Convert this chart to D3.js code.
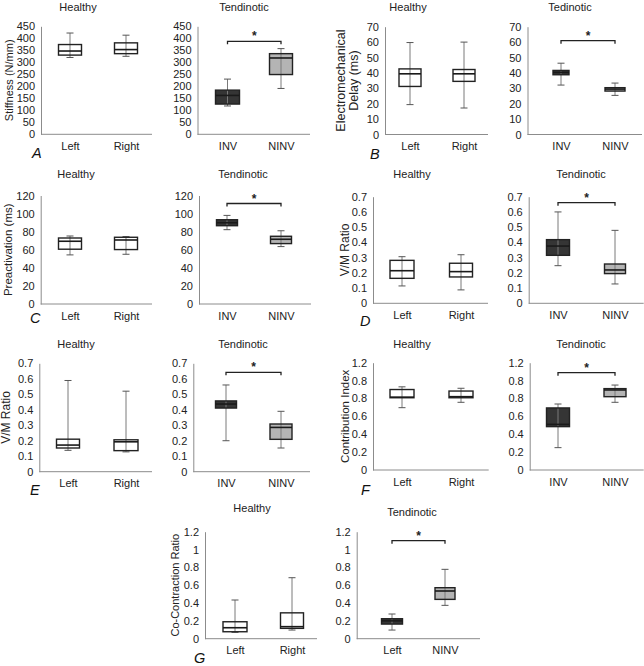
<!DOCTYPE html>
<html>
<head>
<meta charset="utf-8">
<script src="https://cdn.jsdelivr.net/npm/d3@7/dist/d3.min.js"></script>
<style>
html,body{margin:0;padding:0;background:#fff;}
svg{display:block;font-family:"Liberation Sans",Arial,Helvetica,sans-serif;}
</style>
</head>
<body>
<svg id="chart" width="644" height="666"></svg>
<script>
// ---------- DATA (box stats: [min, q1, median, q3, max]) ----------
const healthyCats = ["Left", "Right"];
const tendCats = ["INV", "NINV"];
const tendCatsG = ["Left", "NINV"];

const stiffnessHealthy = [[320, 330, 347, 374, 422], [325, 336, 353, 381, 413]];
const stiffnessTend = [[118, 126, 162, 184, 230], [191, 249, 318, 336, 357]];
const emdHealthy = [[19.4, 31.2, 39.4, 42.6, 59.7], [17.2, 34.5, 39.4, 42.2, 60]];
const emdTend = [[32.1, 38.8, 40.3, 41.6, 46.3], [25.4, 28.2, 29.5, 30.4, 33.4]];
const preactHealthy = [[54.3, 60.6, 69.4, 73, 75.2], [55, 60.2, 70.8, 73.8, 74.5]];
const preactTend = [[82.2, 86.6, 89.9, 93.2, 98], [63.5, 66.8, 71.6, 74.9, 81]];
const vmDHealthy = [[0.114, 0.164, 0.214, 0.282, 0.306], [0.088, 0.173, 0.208, 0.263, 0.319]];
const vmDTend = [[0.247, 0.315, 0.376, 0.418, 0.6], [0.127, 0.195, 0.219, 0.258, 0.479]];
const vmEHealthy = [[0.138, 0.153, 0.172, 0.21, 0.589], [0.128, 0.136, 0.193, 0.206, 0.52]];
const vmETend = [[0.2, 0.411, 0.437, 0.457, 0.56], [0.153, 0.209, 0.286, 0.308, 0.39]];
const ciHealthy = [[0.697, 0.808, 0.815, 0.9, 0.93], [0.757, 0.808, 0.82, 0.883, 0.914]];
const ciTend = [[0.25, 0.485, 0.51, 0.694, 0.738], [0.757, 0.82, 0.895, 0.91, 0.95]];
const ccHealthy = [[0.071, 0.078, 0.123, 0.19, 0.434], [0.097, 0.116, 0.135, 0.29, 0.684]];
const ccTend = [[0.097, 0.164, 0.2, 0.224, 0.277], [0.374, 0.441, 0.535, 0.572, 0.778]];

// tick values and labels
const stiffTicks = [0, 50, 100, 150, 200, 250, 300, 350, 400, 450];
const stiffTickLabels = ["0", "50", "100", "150", "200", "250", "300", "350", "400", "450"];
const emdTicks = [0, 10, 20, 30, 40, 50, 60, 70];
const emdTickLabels = ["0", "10", "20", "30", "40", "50", "60", "70"];
const preactTicks = [0, 20, 40, 60, 80, 100, 120];
const preactTickLabels = ["0", "20", "40", "60", "80", "100", "120"];
const vmTicks = [0, 0.1, 0.2, 0.3, 0.4, 0.5, 0.6, 0.7];
const vmTickLabels = ["0", "0.1", "0.2", "0.3", "0.4", "0.5", "0.6", "0.7"];
const ciTicks = [0, 0.2, 0.4, 0.6, 0.8, 1.0, 1.2];
const ciTickLabels = ["0", "0.2", "0.4", "0.6", "0.8", "0.8", "1.2"];
const ccTicks = [0, 0.2, 0.4, 0.6, 0.8, 1.0, 1.2];
const ccTickLabels = ["0", "0.2", "0.4", "0.6", "0.8", "1", "1.2"];

// ---------- LAYOUT ----------
const panels = [
  {letter: "A", titles: ["Healthy", "Tendinotic"], ylab: ["Stiffness (N/mm)"], ylabSize: 11,
   ticks: stiffTicks, tickLabels: stiffTickLabels, data: [stiffnessHealthy, stiffnessTend], cats: [healthyCats, tendCats],
   yTop: 26.3, yBot: 134.3, titleY: [11, 11], titleX: [78, 244],
   plots: [{ax: 41, ex: 152, c: [70, 126], bw: [23, 23]}, {ax: 197.5, ex: 310, c: [227.5, 281], bw: [24, 23]}],
   ylabX: [8.5], letterX: 32, letterY: 158, br: 15},
  {letter: "B", titles: ["Healthy", "Tedinotic"], ylab: ["Electromechanical", "Delay (ms)"], ylabSize: 12.5,
   ticks: emdTicks, tickLabels: emdTickLabels, data: [emdHealthy, emdTend], cats: [healthyCats, tendCats],
   yTop: 26.7, yBot: 134.5, titleY: [11, 11], titleX: [408, 570],
   plots: [{ax: 385, ex: 488, c: [410, 464], bw: [22, 22]}, {ax: 527.5, ex: 642, c: [561, 615], bw: [16, 20]}],
   ylabX: [341, 354], letterX: 370, letterY: 159, br: 14},
  {letter: "C", titles: ["Healthy", "Tendinotic"], ylab: ["Preactivation (ms)"], ylabSize: 11.5,
   ticks: preactTicks, tickLabels: preactTickLabels, data: [preactHealthy, preactTend], cats: [healthyCats, tendCats],
   yTop: 195.5, yBot: 304, titleY: [178, 178], titleX: [76, 243],
   plots: [{ax: 40.7, ex: 152, c: [70, 126], bw: [23, 23]}, {ax: 199, ex: 311, c: [227, 281], bw: [21, 21]}],
   ylabX: [8.3], letterX: 30, letterY: 323, br: 8},
  {letter: "D", titles: ["Healthy", "Tendinotic"], ylab: ["V/M Ratio"], ylabSize: 12,
   ticks: vmTicks, tickLabels: vmTickLabels, data: [vmDHealthy, vmDTend], cats: [healthyCats, tendCats],
   yTop: 196.7, yBot: 303.3, titleY: [178, 178], titleX: [412, 581],
   plots: [{ax: 373, ex: 488, c: [402, 461], bw: [24, 23]}, {ax: 528.7, ex: 643.7, c: [558, 615], bw: [23, 21]}],
   ylabX: [345], letterX: 360, letterY: 326, br: 6},
  {letter: "E", titles: ["Healthy", "Tendinotic"], ylab: ["V/M Ratio"], ylabSize: 12,
   ticks: vmTicks, tickLabels: vmTickLabels, data: [vmEHealthy, vmETend], cats: [healthyCats, tendCats],
   yTop: 363.3, yBot: 471.7, titleY: [348, 348], titleX: [76, 243],
   plots: [{ax: 39.3, ex: 152, c: [68, 126], bw: [23, 24]}, {ax: 193.3, ex: 310, c: [226, 281], bw: [21, 22]}],
   ylabX: [6], letterX: 30, letterY: 495, br: 9},
  {letter: "F", titles: ["Healthy", "Tendinotic"], ylab: ["Contribution Index"], ylabSize: 11.5,
   ticks: ciTicks, tickLabels: ciTickLabels, data: [ciHealthy, ciTend], cats: [healthyCats, tendCats],
   yTop: 362.7, yBot: 470, titleY: [348, 348], titleX: [412, 581],
   plots: [{ax: 373, ex: 488.7, c: [402, 461], bw: [24, 24]}, {ax: 529.7, ex: 643.7, c: [558, 615], bw: [23, 22]}],
   ylabX: [345], letterX: 361, letterY: 495, br: 10},
  {letter: "G", titles: ["Healthy", "Tendinotic"], ylab: ["Co-Contraction Ratio"], ylabSize: 11,
   ticks: ccTicks, tickLabels: ccTickLabels, data: [ccHealthy, ccTend], cats: [healthyCats, tendCatsG],
   yTop: 531.7, yBot: 638.7, titleY: [512, 515.5], titleX: [252, 412],
   plots: [{ax: 205, ex: 317, c: [235, 292], bw: [24, 23]}, {ax: 356.7, ex: 480, c: [392, 445], bw: [21, 20]}],
   ylabX: [175], letterX: 194, letterY: 662.5, br: 9}
];

const fills = [["#ffffff", "#ffffff"], ["#353535", "#b4b4b4"]];
const capW = 7;
const axisColor = "#8c8c8c";
const whiskerColor = "#7a7a7a";
const textColor = "#222";

const svg = d3.select("#chart");

panels.forEach(p => {
  const g = svg.append("g");
  const yMax = p.ticks[p.ticks.length - 1];
  const y = d3.scaleLinear().domain([0, yMax]).range([p.yBot, p.yTop]);

  // panel letter
  g.append("text").attr("x", p.letterX).attr("y", p.letterY)
    .attr("font-size", 14.5).attr("font-style", "italic").attr("fill", "#111")
    .text(p.letter);

  // y axis title (left plot only)
  p.ylab.forEach((t, i) => {
    g.append("text")
      .attr("transform", `translate(${p.ylabX[i]},${(p.yTop + p.yBot) / 2}) rotate(-90)`)
      .attr("text-anchor", "middle").attr("dominant-baseline", "central")
      .attr("font-size", p.ylabSize).attr("fill", textColor).text(t);
  });

  p.plots.forEach((pl, k) => {
    const cats = p.cats[k];
    const stats = p.data[k];
    const x = d3.scalePoint().domain(cats).range(pl.c);

    // title
    g.append("text").attr("x", p.titleX[k]).attr("y", p.titleY[k])
      .attr("text-anchor", "middle").attr("font-size", 11).attr("fill", textColor)
      .text(p.titles[k]);

    // y axis
    const yAxis = d3.axisLeft(y).tickValues(p.ticks)
      .tickFormat((d, i) => p.tickLabels[i]).tickSize(0).tickSizeOuter(0).tickPadding(6);
    const ya = g.append("g").attr("transform", `translate(${pl.ax},0)`).call(yAxis);
    ya.select(".domain").attr("stroke", axisColor).attr("stroke-width", 1);
    ya.selectAll("text").attr("font-size", 11).attr("fill", textColor)
      .attr("font-family", "'Liberation Sans',Arial,sans-serif");

    // x axis baseline
    g.append("line").attr("x1", pl.ax).attr("x2", pl.ex)
      .attr("y1", p.yBot).attr("y2", p.yBot)
      .attr("stroke", axisColor).attr("stroke-width", 1);
    const xAxis = d3.axisBottom(x).tickSize(0).tickPadding(8);
    const xa = g.append("g").attr("transform", `translate(0,${p.yBot})`).call(xAxis);
    xa.select(".domain").remove();
    xa.selectAll("text").attr("font-size", 11).attr("fill", textColor)
      .attr("font-family", "'Liberation Sans',Arial,sans-serif");

    // boxes
    stats.forEach((s, j) => {
      const cx = x(cats[j]);
      const bw = pl.bw[j];
      const [mn, q1, md, q3, mx] = s;
      const fill = fills[k][j];
      const bg = g.append("g");
      bg.append("rect").attr("x", cx - bw / 2).attr("y", y(q3))
        .attr("width", bw).attr("height", y(q1) - y(q3))
        .attr("fill", fill).attr("stroke", "none");
      // whisker
      bg.append("line").attr("x1", cx).attr("x2", cx).attr("y1", y(mn)).attr("y2", y(mx))
        .attr("stroke", whiskerColor).attr("stroke-width", 1);
      [mn, mx].forEach(v => {
        bg.append("line").attr("x1", cx - capW / 2).attr("x2", cx + capW / 2)
          .attr("y1", y(v)).attr("y2", y(v))
          .attr("stroke", "#555").attr("stroke-width", 1);
      });
      bg.append("rect").attr("x", cx - bw / 2).attr("y", y(q3))
        .attr("width", bw).attr("height", y(q1) - y(q3))
        .attr("fill", "none").attr("stroke", "#222").attr("stroke-width", 1.4);
      bg.append("line").attr("x1", cx - bw / 2).attr("x2", cx + bw / 2)
        .attr("y1", y(md)).attr("y2", y(md))
        .attr("stroke", "#1a1a1a").attr("stroke-width", 1.6);
    });

    // significance bracket on tendinotic plot
    if (k === 1) {
      const by = p.yTop + p.br;
      const x1 = x(cats[0]), x2 = x(cats[1]);
      g.append("path")
        .attr("d", `M${x1},${by + 3}V${by}H${x2}V${by + 3}`)
        .attr("fill", "none").attr("stroke", "#222").attr("stroke-width", 1.3);
      g.append("text").attr("x", (x1 + x2) / 2).attr("y", by - 1)
        .attr("text-anchor", "middle").attr("font-size", 12).attr("font-weight", "bold")
        .attr("fill", "#222").text("*");
    }
  });
});
</script>
</body>
</html>
